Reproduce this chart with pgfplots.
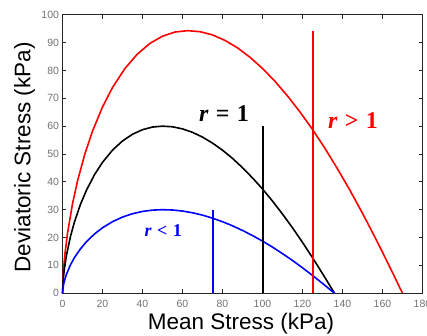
\documentclass[border=0pt]{standalone}
\usepackage{fontspec}
\setmainfont{Liberation Sans}
\newfontfamily\seriffont{Liberation Serif}
\usepackage{pgfplots}
\pgfplotsset{compat=1.18}
\definecolor{tickgray}{gray}{0.45}
\begin{document}
\begin{tikzpicture}
\begin{axis}[
  at={(0,0)}, anchor=south west,
  scale only axis, width=360bp, height=278.5bp,
  xmin=0, xmax=180, ymin=0, ymax=100,
  xtick={0,20,...,180}, ytick={0,10,...,100},
  tick align=inside, tick pos=both, major tick length=4bp,
  axis line style={black!85, line width=0.7bp},
  tick style={black!85, line width=0.6bp},
  ticklabel style={font=\fontsize{10.5bp}{12bp}\selectfont, text=tickgray},
  /pgf/number format/assume math mode=true,
  xticklabel style={yshift=-3bp},
  xlabel={Mean Stress (kPa)},
  ylabel={Deviatoric Stress (kPa)},
  label style={font=\fontsize{22.5bp}{26bp}\selectfont},
  xlabel style={at={(axis description cs:0.4958,-0.1293)}, anchor=base},
  ylabel style={at={(axis description cs:-0.1056,0.488)}, anchor=center},
  clip=false,
]
% red curve (r > 1)
\addplot[red, line width=1.6bp] coordinates {
(0,0) (0.625,9.46) (1.25,14.29) (2.5,21.49) (5,32.07) (7.5,40.28) (11.25,50.17)
(15,58.17) (20,66.87) (25,73.85) (31.25,80.72) (37.5,85.91) (43.75,89.72)
(50,92.27) (56.25,93.77) (62.5,94.27) (68.75,93.90) (75,92.74) (81.25,90.77)
(87.5,88.10) (93.75,84.71) (100,80.70) (106.25,76.08) (112.5,70.83)
(118.75,65.06) (125,58.82) (131.25,51.99) (137.5,44.65) (143.75,36.92)
(150,28.69) (156.25,20.06) (160,14.70) (163.75,9.23) (166.25,5.54)
(168.75,1.82) (170,0)};
% black curve (r = 1)
\addplot[black, line width=1.6bp] coordinates {
(0,0) (0.5,6.02) (1,9.09) (2,13.67) (4,20.41) (6,25.63) (9,31.92) (12,37.01)
(16,42.55) (20,46.99) (25,51.36) (30,54.66) (35,57.08) (40,58.71) (45,59.66)
(50,59.98) (55,59.75) (60,59.00) (65,57.76) (70,56.05) (75,53.90) (80,51.35)
(85,48.41) (90,45.07) (95,41.39) (100,37.43) (105,33.08) (110,28.41)
(115,23.49) (120,18.25) (125,12.76) (128,9.35) (131,5.87) (133,3.52)
(135,1.16) (136,0)};
% blue curve (r < 1)
\addplot[blue, line width=1.6bp] coordinates {
(0,0) (0.5,3.01) (1,4.55) (2,6.84) (4,10.20) (6,12.81) (9,15.96) (12,18.51)
(16,21.27) (20,23.49) (25,25.68) (30,27.33) (35,28.54) (40,29.36) (45,29.83)
(50,29.99) (55,29.87) (60,29.50) (65,28.88) (70,28.03) (75,26.95) (80,25.67)
(85,24.20) (90,22.53) (95,20.70) (100,18.71) (105,16.54) (110,14.21)
(115,11.75) (120,9.13) (125,6.38) (128,4.68) (131,2.94) (133,1.76)
(135,0.58) (136,0)};
% vertical lines
\addplot[blue, line width=2bp] coordinates {(75,0) (75,30)};
\addplot[black, line width=2bp] coordinates {(100,0) (100,60)};
\addplot[red, line width=2bp] coordinates {(125,0) (125,94)};
% annotations
\node[anchor=base, text=black, inner sep=0pt, font={\seriffont\bfseries\fontsize{24bp}{28bp}\selectfont}] at (axis cs:80.75,61.6) {\textit{r}\hspace{0.3em}=\hspace{0.3em}1};
\node[anchor=base, text=red, inner sep=0pt, font={\seriffont\bfseries\fontsize{24bp}{28bp}\selectfont}] at (axis cs:145.25,59.2) {\textit{r}\hspace{0.3em}>\hspace{0.3em}1};
\node[anchor=base, text=blue, inner sep=0pt, font={\seriffont\bfseries\fontsize{18bp}{21bp}\selectfont}] at (axis cs:50.4,20.3) {\textit{r}\hspace{0.3em}<\hspace{0.3em}1};
\end{axis}
\pgfresetboundingbox
\useasboundingbox (-62.5bp,-42.8bp) rectangle (364.5bp,293.2bp);
\end{tikzpicture}
\end{document}
